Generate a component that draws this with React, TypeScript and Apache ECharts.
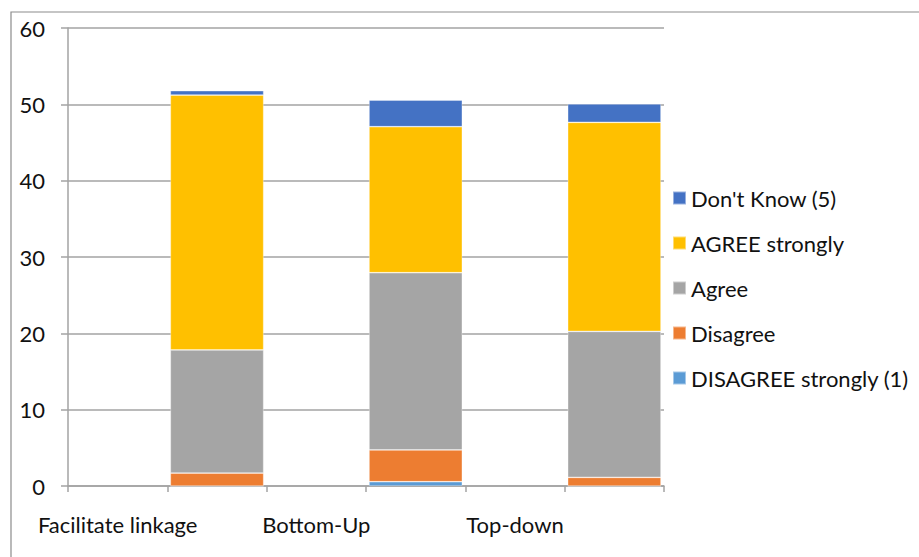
import React, { useEffect, useRef } from "react";
import * as echarts from "echarts";

// Every other slot is a label-only spacer; the stacked bars sit in the blank slots.
const categories = ["Facilitate linkage", "", "Bottom-Up", "", "Top-down", ""];

const disagreeStrongly = [null, 0, null, 0.56, null, 0];
const disagree = [null, 1.7, null, 4.16, null, 1.13];
const agree = [null, 16.12, null, 23.22, null, 19.12];
const agreeStrongly = [null, 33.4, null, 19.13, null, 27.39];
const dontKnow = [null, 0.57, null, 3.49, null, 2.41];

const seriesNames = [
  "DISAGREE strongly (1)",
  "Disagree",
  "Agree",
  "AGREE strongly",
  "Don't Know (5)",
];
const seriesValues = [disagreeStrongly, disagree, agree, agreeStrongly, dontKnow];
const seriesColors = ["#5B9BD5", "#ED7D31", "#A5A5A5", "#FFC000", "#4472C4"];

const legendOrder = [
  "Don't Know (5)",
  "AGREE strongly",
  "Agree",
  "Disagree",
  "DISAGREE strongly (1)",
];

const FONT = "Lato, 'Noto Sans', sans-serif";
const AXIS_GREY = "#A3A3A3";

export default function App() {
  const ref = useRef<HTMLDivElement>(null);

  useEffect(() => {
    if (!ref.current) return;
    const chart = echarts.init(ref.current, undefined, { renderer: "svg" });
    chart.setOption({
      animation: false,
      backgroundColor: "#fff",
      textStyle: { fontFamily: FONT },
      grid: { left: 68, right: 255, top: 28, bottom: 71 },
      legend: {
        orient: "vertical",
        left: 672,
        top: 187,
        padding: 0,
        data: legendOrder,
        icon: "rect",
        itemWidth: 13,
        itemHeight: 13,
        itemGap: 23,
        selectedMode: false,
        textStyle: {
          fontFamily: FONT,
          fontSize: 22,
          lineHeight: 22,
          color: "#111",
        },
      },
      xAxis: {
        type: "category",
        data: categories,
        boundaryGap: true,
        axisLine: { show: true, lineStyle: { color: AXIS_GREY, width: 1.5 } },
        axisTick: {
          show: true,
          interval: 0,
          length: 6,
          lineStyle: { color: AXIS_GREY, width: 1.5 },
        },
        axisLabel: {
          interval: 0,
          margin: 27,
          fontFamily: FONT,
          fontSize: 22,
          color: "#111",
        },
        splitLine: { show: false },
      },
      yAxis: {
        type: "value",
        min: 0,
        max: 60,
        interval: 10,
        axisLine: { show: true, lineStyle: { color: AXIS_GREY, width: 1.5 } },
        axisTick: {
          show: true,
          length: 7,
          lineStyle: { color: AXIS_GREY, width: 1.5 },
        },
        axisLabel: {
          margin: 23,
          fontFamily: FONT,
          fontSize: 22,
          color: "#111",
        },
        splitLine: { show: true, lineStyle: { color: AXIS_GREY, width: 1.5 } },
      },
      series: seriesNames.map((name, i) => ({
        name,
        type: "bar",
        stack: "total",
        barCategoryGap: "6%",
        data: seriesValues[i].map((v) => (v === null ? "-" : v)),
        itemStyle: {
          color: seriesColors[i],
          borderColor: "rgba(255,255,255,0.45)",
          borderWidth: 0.75,
        },
      })),
      graphic: [
        {
          type: "rect",
          silent: true,
          shape: { x: 11, y: 12, width: 940, height: 580 },
          style: { fill: "none", stroke: "#8C8C8C", lineWidth: 1.2 },
        },
      ],
    });
    return () => chart.dispose();
  }, []);

  return (
    <div
      ref={ref}
      style={{ position: "fixed", left: 0, top: 0, width: 919, height: 557 }}
    />
  );
}
